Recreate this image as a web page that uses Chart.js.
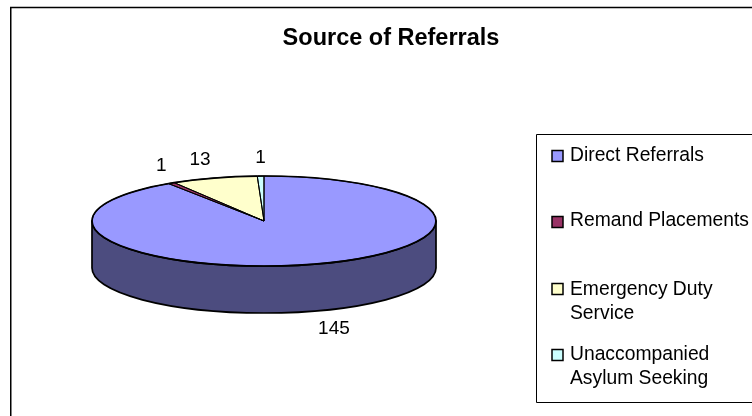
<!DOCTYPE html>
<html>
<head>
<meta charset="utf-8">
<script src="https://cdn.jsdelivr.net/npm/chart.js@4/dist/chart.umd.min.js"></script>
<style>
html,body{margin:0;padding:0;background:#fff;overflow:hidden}
canvas{display:block}
</style>
</head>
<body>
<canvas id="c" width="752" height="416" style="width:752px;height:416px"></canvas>
<script>
const chartTitle = "Source of Referrals";
const categories = ["Direct Referrals", "Remand Placements", "Emergency Duty Service", "Unaccompanied Asylum Seeking"];
const legendLines = [["Direct Referrals"], ["Remand Placements"], ["Emergency Duty", "Service"], ["Unaccompanied", "Asylum Seeking"]];
const values = [145, 1, 13, 1];
const sliceColors = ["#9999FF", "#993366", "#FFFFCC", "#CCFFFF"];
const sideColors = ["#4C4C7F", "#4C1933", "#7F7F66", "#667F7F"];

const FONT = '"Liberation Sans", Arial, sans-serif';
const SQUASH = 45 / 172;
const DEPTH = 47;
const labelOffsets = [[20, 18], [-10, -17], [-14, -18], [0, -18]];

function slicePath(ctx, a, cy) {
  ctx.beginPath();
  ctx.ellipse(a.x, cy, a.outerRadius, a.outerRadius * SQUASH, 0, a.startAngle, a.endAngle);
  ctx.lineTo(a.x, cy);
  ctx.closePath();
}

const pie3d = {
  id: "pie3d",
  beforeDraw(chart) {
    const ctx = chart.ctx, W = chart.width, H = chart.height;
    ctx.save();
    ctx.fillStyle = "#fff";
    ctx.fillRect(0, 0, W, H);
    ctx.strokeStyle = "#000";
    ctx.lineWidth = 1.5;
    ctx.beginPath();
    ctx.moveTo(10.75, H);
    ctx.lineTo(10.75, 7.5);
    ctx.lineTo(W, 7.5);
    ctx.stroke();
    ctx.restore();
  },
  beforeDatasetsDraw(chart) {
    const ctx = chart.ctx;
    const arcs = chart.getDatasetMeta(0).data;
    ctx.save();
    ctx.lineWidth = 1.7;
    ctx.strokeStyle = "#000";
    ctx.lineJoin = "round";
    arcs.forEach((a, i) => {
      const s = Math.max(a.startAngle, 0);
      const e = Math.min(a.endAngle, Math.PI);
      if (e <= s) return;
      const rx = a.outerRadius, ry = rx * SQUASH;
      ctx.beginPath();
      ctx.ellipse(a.x, a.y + DEPTH, rx, ry, 0, s, e);
      ctx.ellipse(a.x, a.y, rx, ry, 0, e, s, true);
      ctx.closePath();
      ctx.fillStyle = sideColors[i];
      ctx.fill();
      ctx.stroke();
    });
    ctx.restore();
    ctx.save();
    const first = arcs[0];
    ctx.translate(first.x, first.y);
    ctx.scale(1, SQUASH);
    ctx.translate(-first.x, -first.y);
  },
  afterDatasetsDraw(chart) {
    const ctx = chart.ctx;
    ctx.restore();
    const arcs = chart.getDatasetMeta(0).data;
    ctx.save();
    ctx.strokeStyle = "#000";
    ctx.lineJoin = "round";
    // thin radial edges so the narrowest slice keeps its colour, heavier rim
    ctx.lineWidth = 1;
    arcs.forEach(a => { slicePath(ctx, a, a.y); ctx.stroke(); });
    ctx.lineWidth = 1.7;
    arcs.forEach(a => {
      ctx.beginPath();
      ctx.ellipse(a.x, a.y, a.outerRadius, a.outerRadius * SQUASH, 0, a.startAngle, a.endAngle);
      ctx.stroke();
    });
    ctx.fillStyle = "#000";
    ctx.font = "19px " + FONT;
    ctx.textAlign = "center";
    ctx.textBaseline = "middle";
    arcs.forEach((a, i) => {
      const mid = (a.startAngle + a.endAngle) / 2;
      let ax = a.x + a.outerRadius * Math.cos(mid);
      let ay = a.y + a.outerRadius * SQUASH * Math.sin(mid);
      if (Math.sin(mid) > 0) ay += DEPTH;
      ctx.fillText(String(values[i]), ax + labelOffsets[i][0], ay + labelOffsets[i][1]);
    });
    ctx.restore();
  },
  afterDraw(chart) {
    const ctx = chart.ctx, W = chart.width;
    ctx.save();
    ctx.fillStyle = "#000";
    ctx.font = "bold 23.5px " + FONT;
    ctx.textAlign = "center";
    ctx.textBaseline = "middle";
    ctx.fillText(chartTitle, 391, 39);
    // legend box, running off the right edge as in the source picture
    ctx.strokeStyle = "#000";
    ctx.lineWidth = 1;
    ctx.beginPath();
    ctx.moveTo(W, 134.5);
    ctx.lineTo(536.5, 134.5);
    ctx.lineTo(536.5, 402.5);
    ctx.lineTo(W, 402.5);
    ctx.stroke();
    const markerRows = [156, 222, 289, 355];
    const textRows = [156, 221, 290, 355];
    ctx.font = "19.3px " + FONT;
    ctx.textAlign = "left";
    legendLines.forEach((lines, i) => {
      ctx.fillStyle = sliceColors[i];
      ctx.fillRect(552, markerRows[i] - 5.5, 11, 11);
      ctx.lineWidth = 1.5;
      ctx.strokeRect(552, markerRows[i] - 5.5, 11, 11);
      ctx.fillStyle = "#000";
      lines.forEach((t, j) => ctx.fillText(t, 570, textRows[i] + j * 23.5));
    });
    ctx.restore();
  }
};

new Chart(document.getElementById("c"), {
  type: "pie",
  data: {
    labels: categories,
    datasets: [{ data: values, backgroundColor: sliceColors, borderWidth: 0 }]
  },
  options: {
    responsive: false,
    animation: false,
    layout: { padding: { left: 92, right: 316, top: 49, bottom: 23 } },
    plugins: { legend: { display: false }, title: { display: false }, tooltip: { enabled: false } }
  },
  plugins: [pie3d]
});
</script>
</body>
</html>
